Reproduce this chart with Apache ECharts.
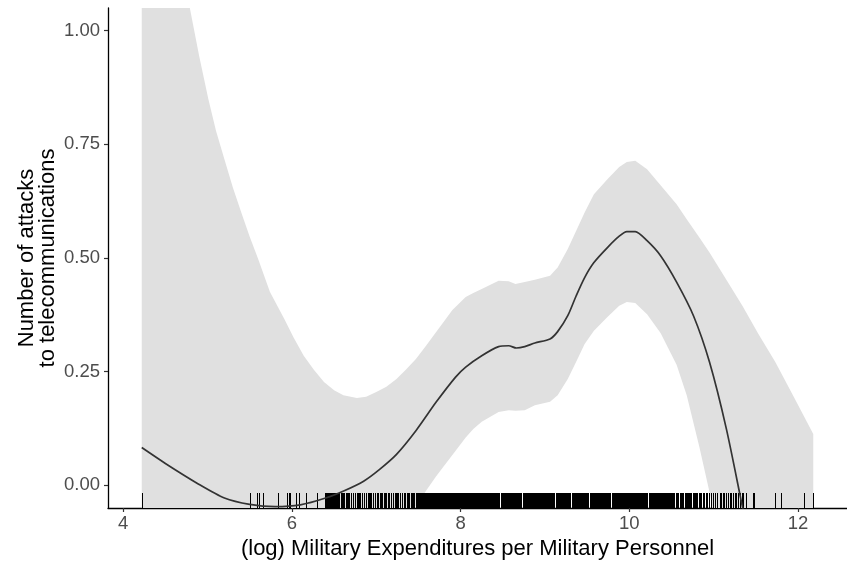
<!DOCTYPE html>
<html>
<head>
<meta charset="utf-8">
<script src="https://cdn.jsdelivr.net/npm/echarts@6/dist/echarts.min.js"></script>
<style>
html,body{margin:0;padding:0;background:#fff;}
#c{width:847px;height:565px;}
</style>
</head>
<body>
<div id="c"></div>
<script>
// ---- data ----
var xTicks = [4, 6, 8, 10, 12];
var yTicks = [0, 0.25, 0.5, 0.75, 1.0];

var fitX = [4.22, 4.5, 4.89, 5.2, 5.5, 5.8, 6.1, 6.4, 6.62, 6.85, 7.04, 7.24, 7.47, 7.71, 7.94, 8.06, 8.25, 8.45, 8.57, 8.66, 8.76, 8.88, 9.06, 9.15, 9.27, 9.37, 9.47, 9.58, 9.74, 9.88, 9.97, 10.07, 10.21, 10.37, 10.56, 10.76, 10.95, 11.15, 11.34, 11.4];
var fitY = [0.083, 0.048, 0.003, -0.028, -0.042, -0.047, -0.043, -0.028, -0.012, 0.009, 0.035, 0.068, 0.12, 0.183, 0.238, 0.26, 0.285, 0.305, 0.307, 0.302, 0.305, 0.313, 0.322, 0.338, 0.373, 0.417, 0.457, 0.49, 0.523, 0.548, 0.558, 0.558, 0.538, 0.505, 0.447, 0.373, 0.271, 0.124, -0.047, -0.1];

var bandX = [4.22, 4.4, 4.6, 4.79, 4.9, 5.01, 5.1, 5.2, 5.3, 5.4, 5.5, 5.6, 5.74, 5.91, 6.02, 6.14, 6.26, 6.38, 6.5, 6.61, 6.77, 6.88, 7.0, 7.12, 7.24, 7.35, 7.47, 7.59, 7.71, 7.8, 7.9, 8.06, 8.15, 8.25, 8.45, 8.57, 8.65, 8.76, 8.88, 9.06, 9.15, 9.27, 9.37, 9.47, 9.58, 9.74, 9.88, 9.97, 10.07, 10.21, 10.37, 10.56, 10.68, 10.83, 10.95, 11.15, 11.34, 11.53, 11.73, 11.95, 12.18];
var bandUpper = [1.95, 1.6, 1.3, 1.05, 0.945, 0.849, 0.78, 0.717, 0.655, 0.60, 0.547, 0.498, 0.425, 0.366, 0.325, 0.285, 0.254, 0.227, 0.209, 0.198, 0.192, 0.195, 0.205, 0.217, 0.234, 0.254, 0.278, 0.307, 0.337, 0.36, 0.385, 0.414, 0.423, 0.432, 0.45, 0.449, 0.443, 0.447, 0.452, 0.461, 0.479, 0.52, 0.56, 0.60, 0.64, 0.673, 0.70, 0.711, 0.714, 0.695, 0.66, 0.618, 0.585, 0.545, 0.512, 0.452, 0.395, 0.333, 0.271, 0.194, 0.113];
var bandLower = [-1.8, -1.5, -1.2, -0.95, -0.87, -0.8, -0.75, -0.7, -0.66, -0.62, -0.58, -0.55, -0.5, -0.43, -0.39, -0.34, -0.31, -0.28, -0.25, -0.23, -0.19, -0.165, -0.14, -0.115, -0.09, -0.068, -0.045, -0.012, 0.02, 0.042, 0.066, 0.105, 0.124, 0.14, 0.161, 0.165, 0.164, 0.165, 0.176, 0.184, 0.198, 0.234, 0.272, 0.311, 0.34, 0.37, 0.395, 0.403, 0.401, 0.376, 0.335, 0.265, 0.198, 0.084, -0.015, -0.2, -0.45, -0.7, -1.0, -1.3, -1.7];

var rugX = [4.22, 5.50, 5.59, 5.61, 5.66, 5.83, 5.94, 5.96, 5.98, 6.05, 6.08, 6.17, 6.30,
6.39, 6.40, 6.41, 6.42, 6.43, 6.44, 6.45, 6.46, 6.47, 6.48, 6.49, 6.50, 6.51, 6.52, 6.53,
6.55, 6.56, 6.58, 6.59, 6.61, 6.62, 6.64, 6.65, 6.67, 6.68, 6.70, 6.72, 6.73, 6.75, 6.77, 6.78, 6.80, 6.81, 6.83, 6.85, 6.86, 6.88, 6.90, 6.91, 6.93, 6.94, 6.96, 6.98, 6.99,
7.01, 7.02, 7.04, 7.06, 7.07, 7.09, 7.10, 7.12, 7.14, 7.15, 7.17, 7.18, 7.20, 7.22, 7.23, 7.25, 7.26, 7.28, 7.30, 7.31, 7.33, 7.34, 7.36, 7.38, 7.39, 7.41, 7.42, 7.44, 7.45, 7.47, 7.48, 7.49,
7.50, 7.51, 7.52, 7.53, 7.54, 7.55, 7.56, 7.57, 7.58, 7.59, 7.60, 7.61, 7.63, 7.64, 7.65, 7.66, 7.67, 7.68, 7.69, 7.70, 7.71, 7.72, 7.73, 7.74, 7.75, 7.76, 7.77, 7.78, 7.79, 7.80, 7.81, 7.82, 7.83, 7.84, 7.85, 7.86, 7.87, 7.89, 7.90, 7.91, 7.92, 7.93, 7.94, 7.95, 7.96, 7.97, 7.98, 7.99,
8.00, 8.01, 8.02, 8.03, 8.04, 8.05, 8.06, 8.07, 8.08, 8.09, 8.10, 8.11, 8.12, 8.13, 8.14, 8.15, 8.16, 8.17, 8.18, 8.19, 8.20, 8.22, 8.23, 8.24, 8.25, 8.26, 8.27, 8.28, 8.29, 8.30, 8.31, 8.32, 8.33, 8.34, 8.35, 8.36, 8.37, 8.38, 8.39, 8.40, 8.41, 8.42, 8.43, 8.44, 8.45, 8.46, 8.48, 8.49,
8.50, 8.51, 8.52, 8.53, 8.54, 8.55, 8.56, 8.57, 8.58, 8.59, 8.60, 8.61, 8.62, 8.63, 8.64, 8.65, 8.66, 8.67, 8.68, 8.69, 8.70, 8.71, 8.72, 8.74, 8.75, 8.76, 8.77, 8.78, 8.79, 8.80, 8.81, 8.82, 8.83, 8.84, 8.85, 8.86, 8.87, 8.88, 8.89, 8.90, 8.91, 8.92, 8.93, 8.94, 8.95, 8.96, 8.97, 8.98, 8.99,
9.00, 9.01, 9.02, 9.03, 9.04, 9.05, 9.06, 9.07, 9.08, 9.09, 9.10, 9.11, 9.13, 9.14, 9.15, 9.16, 9.17, 9.18, 9.19, 9.20, 9.21, 9.22, 9.23, 9.24, 9.25, 9.26, 9.27, 9.28, 9.29, 9.30, 9.32, 9.33, 9.34, 9.35, 9.36, 9.37, 9.38, 9.39, 9.40, 9.41, 9.42, 9.43, 9.44, 9.45, 9.46, 9.47, 9.48, 9.49,
9.50, 9.51, 9.53, 9.54, 9.55, 9.56, 9.57, 9.58, 9.59, 9.60, 9.61, 9.62, 9.63, 9.64, 9.65, 9.66, 9.67, 9.68, 9.69, 9.70, 9.71, 9.72, 9.73, 9.74, 9.75, 9.76, 9.77, 9.79, 9.80, 9.81, 9.82, 9.83, 9.84, 9.85, 9.86, 9.87, 9.88, 9.89, 9.90, 9.91, 9.92, 9.94, 9.95, 9.96, 9.97, 9.98, 9.99,
10.00, 10.01, 10.02, 10.03, 10.04, 10.05, 10.06, 10.07, 10.08, 10.09, 10.10, 10.11, 10.12, 10.13, 10.14, 10.15, 10.16, 10.17, 10.18, 10.19, 10.20, 10.21, 10.23, 10.24, 10.25, 10.26, 10.27, 10.28, 10.29, 10.30, 10.31, 10.32, 10.33, 10.34, 10.35, 10.36, 10.37, 10.39, 10.40, 10.41, 10.42, 10.43, 10.44, 10.45, 10.46, 10.47, 10.48, 10.49, 10.50,
10.51, 10.52, 10.53, 10.55, 10.56, 10.57, 10.58, 10.60, 10.61, 10.62, 10.63, 10.64, 10.66, 10.67, 10.68, 10.70, 10.71, 10.72, 10.73, 10.75, 10.77, 10.78, 10.79, 10.80, 10.82, 10.84, 10.85, 10.87, 10.89, 10.91, 10.92, 10.94, 10.97, 10.99,
11.01, 11.02, 11.04, 11.07, 11.09, 11.11, 11.12, 11.14, 11.17, 11.19, 11.21, 11.23, 11.25, 11.27, 11.29, 11.31, 11.33, 11.35, 11.38, 11.46, 11.48, 11.73, 11.80, 12.07, 12.18];

var xTitle = '(log) Military Expenditures per Military Personnel';
var yTitle = 'Number of attacks\nto telecommunications';

// ---- chart ----
var X_MIN = 3.82, X_MAX = 12.58, Y_MIN = -0.05, Y_MAX = 1.05;
var FONT = '"Liberation Sans", Arial, Helvetica, sans-serif';
var chart = echarts.init(document.getElementById('c'), null, {renderer: 'canvas'});

var bandData = bandX.map(function (x, i) { return [x, bandLower[i], bandUpper[i]]; });
var fitData = fitX.map(function (x, i) { return [x, fitY[i]]; });
var rugData = rugX.map(function (x) { return [x, Y_MIN]; });

chart.setOption({
  animation: false,
  backgroundColor: '#ffffff',
  grid: {left: 108, right: -8, top: 8, bottom: 56, containLabel: false},
  xAxis: {
    type: 'value', min: X_MIN, max: X_MAX,
    axisLine: {show: true, onZero: false, lineStyle: {color: '#000', width: 1.3}},
    axisTick: {show: true, length: 4, customValues: xTicks, lineStyle: {color: '#333', width: 1.2}},
    axisLabel: {customValues: xTicks, margin: 6, color: '#4D4D4D', fontSize: 18.5, fontFamily: FONT},
    splitLine: {show: false},
    name: xTitle, nameLocation: 'middle', nameGap: 30, nameMoveOverlap: false,
    nameTextStyle: {color: '#000', fontSize: 22, fontFamily: FONT}
  },
  yAxis: {
    type: 'value', min: Y_MIN, max: Y_MAX,
    axisLine: {show: true, onZero: false, lineStyle: {color: '#000', width: 1.3}},
    axisTick: {show: true, length: 4, customValues: yTicks, lineStyle: {color: '#333', width: 1.2}},
    axisLabel: {customValues: yTicks, margin: 8, color: '#4D4D4D', fontSize: 18.5, fontFamily: FONT,
      formatter: function (v) { return v.toFixed(2); }},
    splitLine: {show: false},
    name: yTitle, nameLocation: 'middle', nameGap: 50, nameRotate: 90, nameMoveOverlap: false,
    nameTextStyle: {color: '#000', fontSize: 22, lineHeight: 21, fontFamily: FONT, align: 'center'}
  },
  series: [
    {
      type: 'custom', data: bandData, encode: {x: 0, y: [1, 2]}, silent: true, clip: true, z: 1,
      renderItem: function (params, api) {
        if (params.dataIndex !== 0) { return null; }
        var pts = [];
        for (var i = 0; i < bandX.length; i++) { pts.push(api.coord([bandX[i], bandUpper[i]])); }
        for (var j = bandX.length - 1; j >= 0; j--) { pts.push(api.coord([bandX[j], bandLower[j]])); }
        var cs = params.coordSys;
        return {
          type: 'polygon', shape: {points: pts},
          style: {fill: '#E0E0E0'},
          clipPath: {type: 'rect', shape: {x: cs.x, y: cs.y, width: cs.width, height: cs.height}}
        };
      }
    },
    {
      type: 'custom', data: rugData, encode: {x: 0, y: 1}, silent: true, z: 2,
      renderItem: function (params, api) {
        var p = api.coord([api.value(0), api.value(1)]);
        var x = Math.round(p[0]) + 0.5;
        return {type: 'line', shape: {x1: x, y1: p[1], x2: x, y2: p[1] - 15},
          style: {stroke: '#000', lineWidth: 1}};
      }
    },
    {
      type: 'line', data: fitData, symbol: 'none', smooth: 0.25, clip: true,
      lineStyle: {color: '#333333', width: 1.7}, silent: true, z: 3
    }
  ]
});
</script>
</body>
</html>
